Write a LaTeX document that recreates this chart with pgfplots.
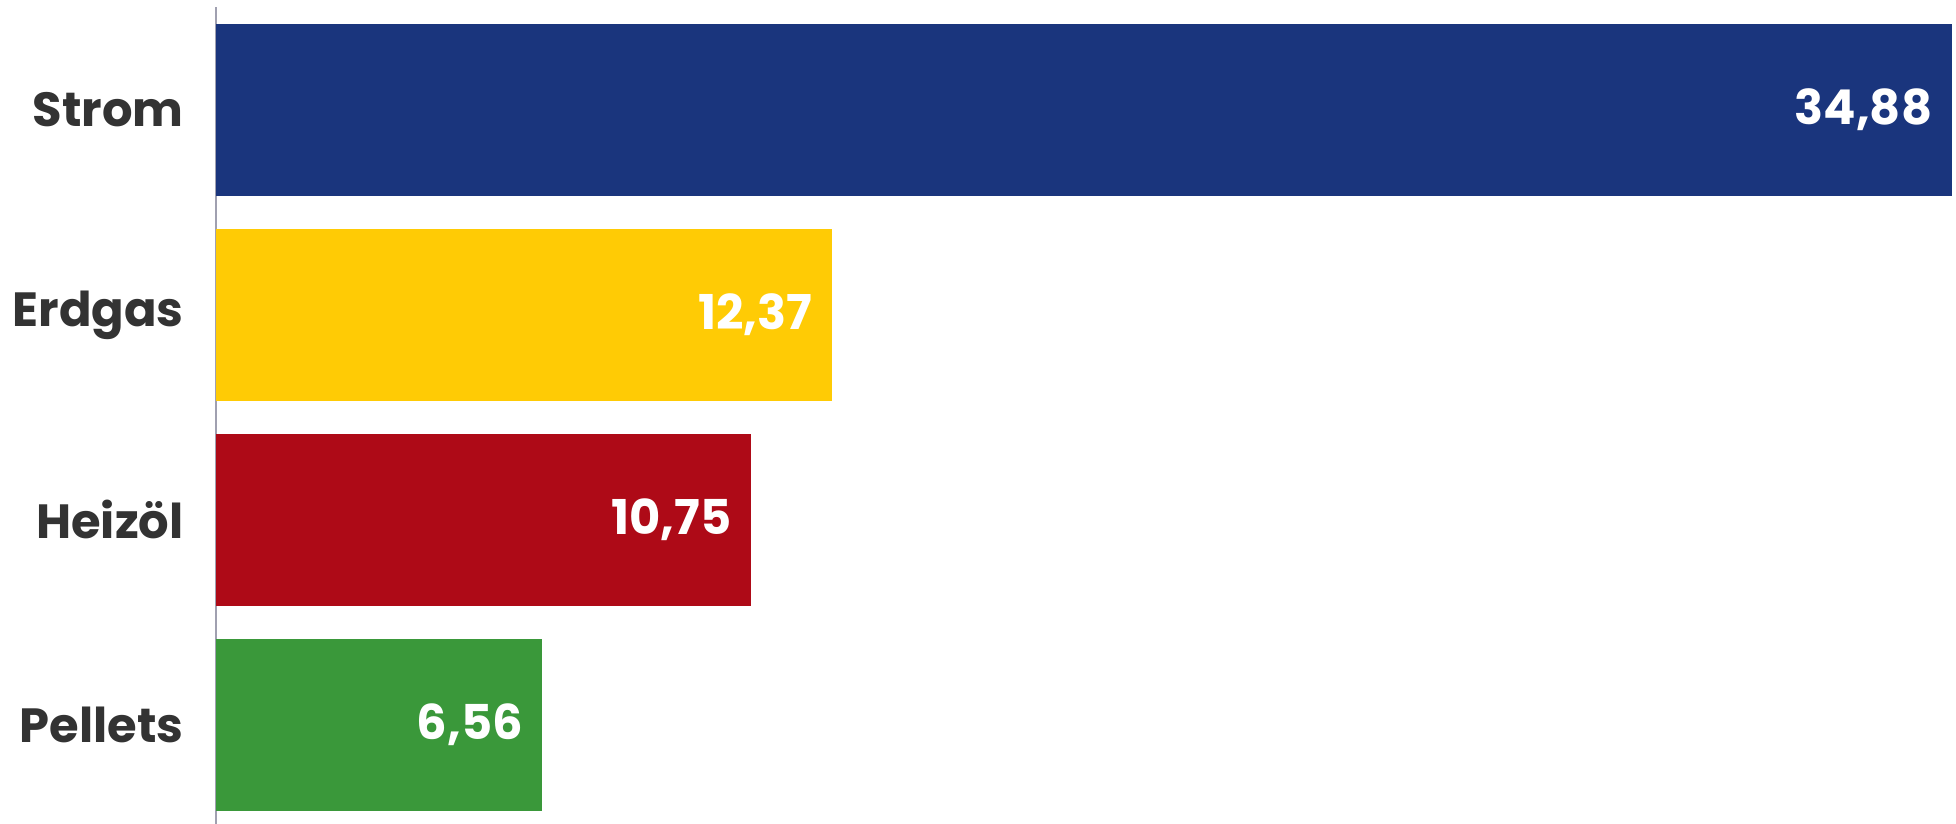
\documentclass[border=0pt]{standalone}
\usepackage{fontspec}
\setmainfont{Poppins}
\usepackage{pgfplots}
\pgfplotsset{compat=1.18}
\definecolor{cStrom}{HTML}{1A357D}
\definecolor{cGas}{HTML}{FFCB05}
\definecolor{cOel}{HTML}{AE0A17}
\definecolor{cPel}{HTML}{3A983A}
\definecolor{txt}{HTML}{333333}
\definecolor{axl}{HTML}{A0A0B0}
\begin{document}
\begin{tikzpicture}
\useasboundingbox (0,0) rectangle (978pt,412pt);
\begin{axis}[
  at={(108pt,0pt)}, anchor=south west,
  scale only axis, width=870pt, height=408.5pt,
  xmin=0, xmax=34.97, ymin=-0.483, ymax=3.502,
  axis x line=none, axis y line*=left,
  y axis line style={draw=axl, line width=0.8pt},
  ytick={0,1,2,3}, yticklabels={Pellets,Heizöl,Erdgas,Strom},
  major tick length=0pt,
  yticklabel style={font=\fontsize{24}{28}\selectfont\bfseries, text=txt, inner sep=0pt, anchor=east, xshift=-16pt},
  xbar, bar width=86pt, bar shift=0pt,
  point meta=explicit symbolic,
  nodes near coords,
  nodes near coords style={anchor=east, xshift=-9.5pt, text=white, font=\fontsize{24}{28}\selectfont\bfseries, inner sep=0pt},
  clip=false,
]
\addplot[fill=cStrom, draw=none] coordinates {(34.88,3) [34,88]};
\addplot[fill=cGas, draw=none] coordinates {(12.37,2) [12,37]};
\addplot[fill=cOel, draw=none] coordinates {(10.75,1) [10,75]};
\addplot[fill=cPel, draw=none] coordinates {(6.56,0) [6,56]};
\end{axis}
\end{tikzpicture}
\end{document}
